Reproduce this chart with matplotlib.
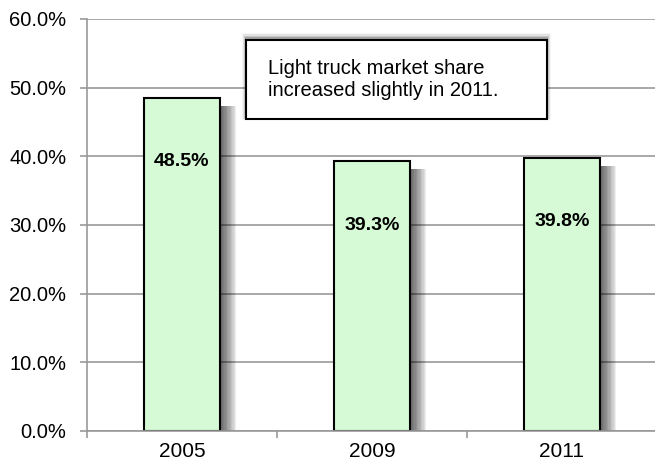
import matplotlib.pyplot as plt
import matplotlib.patches as mpatches
from matplotlib import font_manager
from matplotlib.ticker import FuncFormatter, FixedLocator

years = ["2005", "2009", "2011"]
share = [48.5, 39.3, 39.8]
note = "Light truck market share\nincreased slightly in 2011."

_names = {f.name for f in font_manager.fontManager.ttflist}
narrow = "Liberation Sans Narrow" if "Liberation Sans Narrow" in _names else "Liberation Sans"
plt.rcParams["font.family"] = ["Liberation Sans", "DejaVu Sans"]

fig = plt.figure(figsize=(6.55, 4.7), dpi=100)
ax = fig.add_axes([87 / 655, 39 / 470, 570 / 655, 412 / 470])

x = list(range(len(years)))
width = 0.405

# soft drop shadow to the right of each bar, built from stacked translucent layers
for i, v in enumerate(share):
    for k in range(12):
        off = 0.007 * (k + 1)
        ax.add_patch(mpatches.Rectangle((i - width / 2 + off, 0), width, v - 1.2,
                                        facecolor="black", alpha=0.065, linewidth=0, zorder=1.5))

ax.bar(x, share, width=width, color="#d5fad5", edgecolor="black", linewidth=1.5, zorder=2)

for i, v in enumerate(share):
    ax.annotate(f"{v:.1f}%", (i, v), xytext=(0, -46), textcoords="offset points",
                ha="center", va="center", fontsize=14, fontweight="bold",
                family=[narrow, "DejaVu Sans"], zorder=3)

ax.set_xlim(-0.5, 2.5)
ax.set_ylim(0, 60)
ax.yaxis.set_major_locator(FixedLocator([0, 10, 20, 30, 40, 50, 60]))
ax.yaxis.set_major_formatter(FuncFormatter(lambda v, p: f"{v:.1f}%"))
ax.set_xticks(x)
ax.set_xticklabels(years)
ax.xaxis.set_minor_locator(FixedLocator([-0.5, 0.5, 1.5, 2.5]))
ax.tick_params(axis="x", which="major", length=0, labelsize=15, pad=8)
ax.tick_params(axis="x", which="minor", length=5, color="#999999", width=1.2)
ax.tick_params(axis="y", length=5, color="#999999", width=1.2, labelsize=14.5, pad=10)

ax.grid(axis="y", color="#999999", linewidth=1.2, zorder=0)
ax.set_axisbelow(True)
for s in ["top", "right"]:
    ax.spines[s].set_visible(False)
ax.spines["left"].set_color("#999999")
ax.spines["bottom"].set_color("#999999")
ax.spines["left"].set_linewidth(1.2)
ax.spines["bottom"].set_linewidth(1.2)

# annotation box with shadow
bx0, by0, bw, bh = 246 / 655, (470 - 119) / 470, 301 / 655, 79 / 470
for k, a in enumerate([0.18, 0.12, 0.07, 0.04]):
    d = (2 + 2 * k) / 655
    fig.patches.append(mpatches.Rectangle((bx0 - d / 2, by0 + 0.004 - d / 2), bw + d, bh + d * 1.4,
                                          transform=fig.transFigure, facecolor="black",
                                          alpha=a, linewidth=0, zorder=4))
fig.patches.append(mpatches.Rectangle((bx0, by0), bw, bh, transform=fig.transFigure,
                                      facecolor="white", edgecolor="black", linewidth=1.5, zorder=5))
fig.text(bx0 + 22 / 655, by0 + bh / 2, note, transform=fig.transFigure, ha="left", va="center",
         fontsize=14.5, family=[narrow, "DejaVu Sans"], linespacing=1.25, zorder=6)

fig.savefig("out.png", dpi=100)
